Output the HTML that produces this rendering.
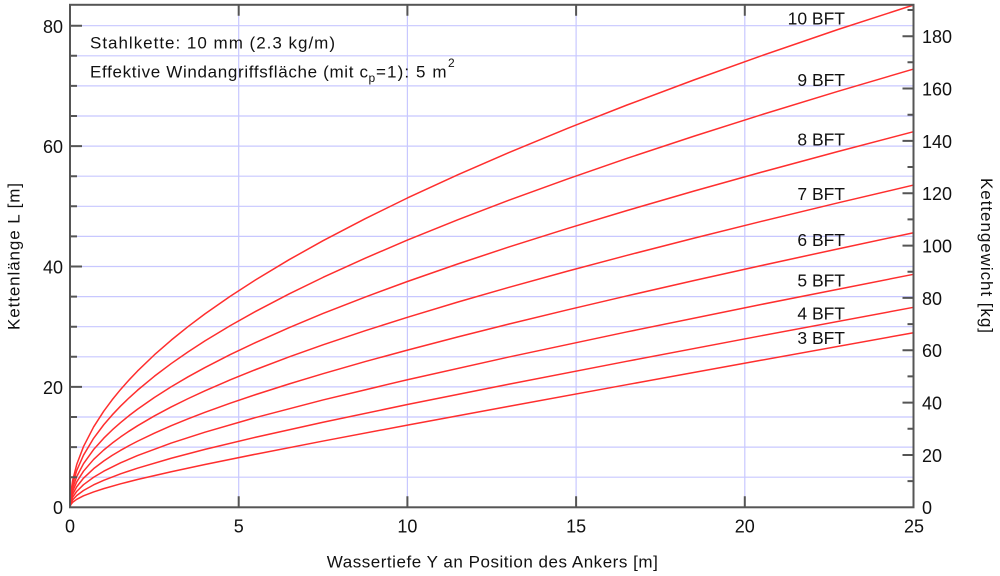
<!DOCTYPE html>
<html><head><meta charset="utf-8"><style>
html,body{margin:0;padding:0;background:#fff;}
svg{display:block;}
text{font-family:"Liberation Sans",sans-serif;fill:#111;}
</style></head><body>
<svg width="1000" height="576" viewBox="0 0 1000 576" xmlns="http://www.w3.org/2000/svg">
<rect x="0" y="0" width="1000" height="576" fill="#fff"/>
<!-- gridlines -->
<g stroke="#c8c8ff" stroke-width="1.2" fill="none">
<path d="M70 477.2H913.5M70 447.1H913.5M70 417H913.5M70 386.9H913.5M70 356.8H913.5M70 326.7H913.5M70 296.6H913.5M70 266.5H913.5M70 236.4H913.5M70 206.3H913.5M70 176.2H913.5M70 146.1H913.5M70 116H913.5M70 85.9H913.5M70 55.8H913.5M70 25.7H913.5"/>
<path d="M238.7 5V507.3M407.4 5V507.3M576.1 5V507.3M744.8 5V507.3"/>
</g>
<!-- curves -->
<g stroke="#ff2e2e" stroke-width="1.5" fill="none" stroke-linejoin="round">
<polyline points="70,507.3 70.67,504.8 72.7,502.27 76.75,499.3 83.5,495.85 93.62,491.91 103.74,488.61 120.61,483.82 137.48,479.53 171.22,471.73 204.96,464.49 255.57,454.21 323.05,441.07 407.4,425.11 508.62,406.33 626.71,384.69 761.67,360.17 913.5,332.72"/>
<polyline points="70,507.3 70.67,503.57 72.7,499.84 76.75,495.46 83.5,490.47 93.62,484.87 103.74,480.28 120.61,473.8 137.48,468.16 171.22,458.24 204.96,449.38 255.57,437.22 323.05,422.21 407.4,404.54 508.62,384.25 626.71,361.32 761.67,335.69 913.5,307.32"/>
<polyline points="70,507.3 70.67,502.27 72.7,497.23 76.75,491.35 83.5,484.67 93.62,477.24 103.74,471.22 120.61,462.8 137.48,455.57 171.22,443.09 204.96,432.19 255.57,417.54 323.05,399.92 407.4,379.71 508.62,357.05 626.71,331.95 761.67,304.39 913.5,274.3"/>
<polyline points="70,507.3 70.67,500.8 72.7,494.3 76.75,486.73 83.5,478.15 93.62,468.65 103.74,460.98 112.18,455.41 120.61,450.33 129.05,445.64 137.48,441.24 154.35,433.14 171.22,425.73 188.09,418.83 204.96,412.35 230.27,403.2 255.57,394.62 289.31,383.85 323.05,373.67 365.23,361.59 407.4,350.09 458.01,336.86 508.62,324.15 567.67,309.83 626.71,295.95 694.19,280.53 761.67,265.5 837.59,248.96 913.5,232.75"/>
<polyline points="70,507.3 70.67,499.24 72.7,491.18 76.75,481.79 83.5,471.18 93.62,459.44 103.74,450 112.18,443.15 120.61,436.93 129.05,431.18 137.48,425.82 154.35,415.95 171.22,406.96 188.09,398.63 204.96,390.82 230.27,379.86 255.57,369.62 289.31,356.84 323.05,344.84 365.23,330.7 407.4,317.31 458.01,302.03 508.62,287.44 567.67,271.12 626.71,255.42 694.19,238.09 761.67,221.3 837.59,202.95 913.5,185.07"/>
<polyline points="70,507.3 70.67,497.57 72.7,487.83 76.75,476.5 83.5,463.71 93.62,449.56 103.74,438.21 112.18,429.99 120.61,422.53 129.05,415.65 137.48,409.23 154.35,397.45 171.22,386.74 188.09,376.83 204.96,367.56 230.27,354.6 255.57,342.53 289.31,327.52 323.05,313.49 365.23,297.02 407.4,281.49 458.01,263.86 508.62,247.1 567.67,228.47 626.71,210.62 694.19,191.02 761.67,172.14 837.59,151.61 913.5,131.71"/>
<polyline points="70,507.3 70.67,495.66 72.7,484.01 76.75,470.46 83.5,455.18 93.62,438.3 103.74,424.76 112.18,414.95 120.61,406.07 129.05,397.89 137.48,390.26 154.35,376.27 171.22,363.57 188.09,351.85 204.96,340.9 230.27,325.62 255.57,311.42 289.31,293.8 323.05,277.37 365.23,258.16 407.4,240.1 458.01,219.68 508.62,200.34 567.67,178.9 626.71,158.47 694.19,136.12 761.67,114.67 837.59,91.45 913.5,69.04"/>
<polyline points="70,507.3 70.67,493.73 72.7,480.16 76.75,464.38 83.5,446.57 93.62,426.92 103.74,411.17 112.18,399.77 120.61,389.45 129.05,379.94 137.48,371.09 154.35,354.86 171.22,340.14 188.09,326.57 204.96,313.91 230.27,296.25 255.57,279.87 289.31,259.58 323.05,240.7 365.23,218.65 407.4,197.99 458.01,174.65 508.62,152.63 567.67,128.27 626.71,105.12 694.19,79.88 761.67,55.71 837.59,29.63 913.5,5"/>
</g>
<!-- frame -->
<rect x="70" y="4.8" width="843.5" height="502.5" fill="none" stroke="#555" stroke-width="2"/>
<!-- ticks -->
<g stroke="#555" stroke-width="2" fill="none">
<path d="M70 477.2h7M70 447.1h7M70 417h7M70 356.8h7M70 326.7h7M70 296.6h7M70 236.4h7M70 206.3h7M70 176.2h7M70 116h7M70 85.9h7M70 55.8h7"/>
<path d="M70 386.9h12M70 266.5h12M70 146.1h12M70 25.7h12"/>
<path d="M238.7 507.3v-11M407.4 507.3v-11M576.1 507.3v-11M744.8 507.3v-11"/>
<path d="M238.7 4.8v11M407.4 4.8v11M576.1 4.8v11M744.8 4.8v11"/>
<path d="M913.5 454.95h-11M913.5 402.6h-11M913.5 350.3h-11M913.5 297.9h-11M913.5 245.6h-11M913.5 193.2h-11M913.5 140.9h-11M913.5 88.5h-11M913.5 36.2h-11"/>
<path d="M913.5 481.1h-6M913.5 428.8h-6M913.5 376.4h-6M913.5 324.1h-6M913.5 271.7h-6M913.5 219.4h-6M913.5 167h-6M913.5 114.7h-6M913.5 62.3h-6M913.5 10h-6"/>
</g>
<!-- left tick labels -->
<g font-size="18" text-anchor="end">
<text x="63" y="33">80</text>
<text x="63" y="153">60</text>
<text x="63" y="273.5">40</text>
<text x="63" y="394">20</text>
<text x="63" y="514">0</text>
</g>
<!-- bottom tick labels -->
<g font-size="18" text-anchor="middle">
<text x="70" y="532.3">0</text>
<text x="238.7" y="532.3">5</text>
<text x="407.4" y="532.3">10</text>
<text x="576.1" y="532.3">15</text>
<text x="744.8" y="532.3">20</text>
<text x="914" y="532.3">25</text>
</g>
<!-- right tick labels -->
<g font-size="18" text-anchor="start">
<text x="922" y="514">0</text>
<text x="922" y="461.8">20</text>
<text x="922" y="409.5">40</text>
<text x="922" y="357.2">60</text>
<text x="922" y="304.8">80</text>
<text x="922" y="252.5">100</text>
<text x="922" y="200">120</text>
<text x="922" y="147.8">140</text>
<text x="922" y="95.4">160</text>
<text x="922" y="43">180</text>
</g>
<!-- BFT labels -->
<g font-size="17.5" text-anchor="end">
<text x="845" y="24.3">10 BFT</text>
<text x="845" y="86">9 BFT</text>
<text x="845" y="145.3">8 BFT</text>
<text x="845" y="200">7 BFT</text>
<text x="845" y="246">6 BFT</text>
<text x="845" y="286.7">5 BFT</text>
<text x="845" y="319.5">4 BFT</text>
<text x="845" y="344">3 BFT</text>
</g>
<!-- annotations -->
<text x="90" y="48.5" font-size="17" textLength="245" lengthAdjust="spacing">Stahlkette: 10 mm (2.3 kg/m)</text>
<text x="90" y="77.3" font-size="17" textLength="278" lengthAdjust="spacing">Effektive Windangriffsfläche (mit c</text>
<text x="368.5" y="82" font-size="12">p</text>
<text x="376" y="77.3" font-size="17" textLength="70.5" lengthAdjust="spacing">=1): 5 m</text>
<text x="448" y="67" font-size="12">2</text>
<!-- axis titles -->
<text x="492.3" y="567.3" font-size="17" text-anchor="middle" textLength="331" lengthAdjust="spacing">Wassertiefe Y an Position des Ankers [m]</text>
<text transform="translate(19.5,256.5) rotate(-90)" font-size="17" text-anchor="middle" textLength="147" lengthAdjust="spacing">Kettenlänge L [m]</text>
<text transform="translate(981,255.5) rotate(90)" font-size="17" text-anchor="middle" textLength="155" lengthAdjust="spacing">Kettengewicht [kg]</text>
</svg>
</body></html>
